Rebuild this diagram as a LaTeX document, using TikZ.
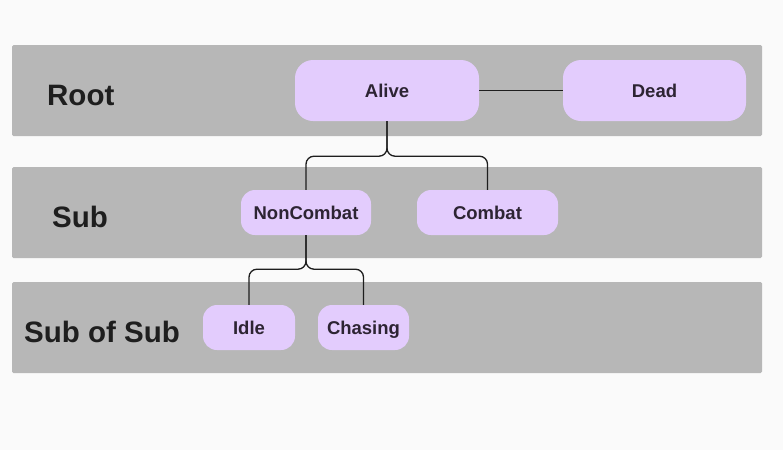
\documentclass[tikz,border=0pt]{standalone}
\usepackage{fontspec}
\setmainfont{Liberation Sans}
\begin{document}
\begin{tikzpicture}[x=1pt,y=-1pt,
  band/.style={fill=bandgray, rounded corners=1.5pt},
  state/.style={fill=statefill, rounded corners=18pt, text=textdark, font=\bfseries\fontsize{18.5}{20}\selectfont, inner sep=0pt, text height=13.3pt, text depth=0pt},
  small/.style={state, rounded corners=14pt},
  lvl/.style={anchor=west, text=labeldark, font=\bfseries\fontsize{29.5}{32}\selectfont, inner sep=0pt, text height=21pt, text depth=0pt},
  conn/.style={draw=linedark, line width=1.3pt, rounded corners=8pt}]
\definecolor{bg}{HTML}{FAFAFA}
\definecolor{bandgray}{HTML}{B7B7B7}
\definecolor{statefill}{HTML}{E3CCFD}
\definecolor{textdark}{HTML}{2D2433}
\definecolor{labeldark}{HTML}{1E1E1E}
\definecolor{linedark}{HTML}{1E1E1E}
\fill[bg] (0,0) rectangle (783,450);
\useasboundingbox (0,0) rectangle (783,450);
\fill[band] (12,45) rectangle (762,136);
\fill[band] (12,167) rectangle (762,258);
\fill[band] (12,282) rectangle (762,373);
\node[lvl] (lroot) at (47,95) {Root};
\node[lvl] (lsub) at (52,217) {Sub};
\node[lvl] (lsubsub) at (24,332) {Sub of Sub};
\node[state, minimum width=184pt, minimum height=61pt] (alive) at (387,90.5) {Alive};
\node[state, minimum width=183pt, minimum height=61pt] (dead) at (654.5,90.5) {Dead};
\node[small, minimum width=130pt, minimum height=45pt] (noncombat) at (306,212.5) {NonCombat};
\node[small, minimum width=141pt, minimum height=45pt] (combat) at (487.5,212.5) {Combat};
\node[small, minimum width=92pt, minimum height=45pt] (idle) at (249,327.5) {Idle};
\node[small, minimum width=91pt, minimum height=45pt] (chasing) at (363.5,327.5) {Chasing};
\draw[conn] (alive.east) -- (dead.west);
\draw[conn] (alive.south) -- ++(0,35) -| (noncombat.north);
\draw[conn] (alive.south) -- ++(0,35) -| (combat.north);
\draw[conn] (noncombat.south) -- ++(0,34) -| (idle.north);
\draw[conn] (noncombat.south) -- ++(0,34) -| (chasing.north);
\end{tikzpicture}
\end{document}
